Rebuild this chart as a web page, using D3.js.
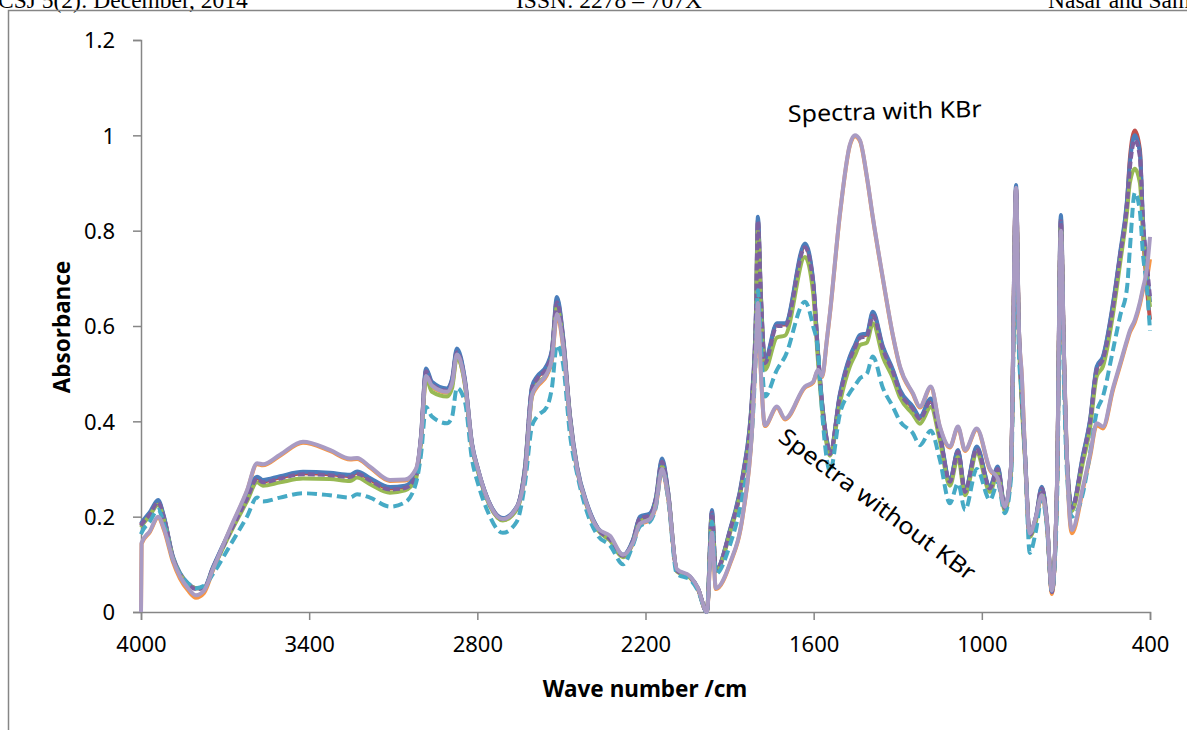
<!DOCTYPE html>
<html>
<head>
<meta charset="utf-8">
<script src="https://cdn.jsdelivr.net/npm/d3@7"></script>
<style>
body{margin:0;background:#fff;overflow:hidden}
svg{display:block}
.tick text{font-family:"Noto Sans",sans-serif;font-size:22px;fill:#000}
</style>
</head>
<body>
<svg id="chart"></svg>
<script>
const width=1187;
const height=730;

// wave numbers (cm-1), shared by every spectrum
const wavenumbers=[4000,3998,3968,3939,3918,3886,3861,3832,3804,3775,3743,
3682,3622,3586,3565,3504,3422,3326,3254,3229,3183,
3112,3058,3019,3001,2983,2962,2908,2890,2873,2844,
2819,2798,2766,2709,2659,2630,2605,2587,2552,2534,
2516,2494,2469,2444,2409,2370,2327,2280,2245,2220,
2184,2163,2141,2120,2088,2041,2013,1981,1963,1949,
1899,1852,1820,1806,1799,1788,1774,1731,1702,1631,
1602,1585,1570,1553,1542,1506,1471,1453,1435,1410,
1389,1353,1317,1292,1246,1221,1182,1150,1114,1085,
1060,1018,971,943,918,896,878,868,857,846,
829,807,786,768,750,732,718,707,697,679,
639,614,590,568,532,507,482,472,454,436,
425,411,400];

// spectra without KBr
const blue=[0.185,0.187,0.21,0.235,0.2,0.116,0.082,0.06,0.05,0.052,0.095,
0.172,0.242,0.284,0.277,0.285,0.294,0.292,0.288,0.295,0.281,
0.262,0.265,0.29,0.37,0.511,0.483,0.469,0.49,0.553,0.487,
0.354,0.301,0.242,0.197,0.221,0.305,0.473,0.494,0.518,0.55,
0.661,0.578,0.41,0.305,0.228,0.176,0.155,0.12,0.151,0.2,
0.207,0.24,0.322,0.256,0.088,0.074,0.05,0.0,0.214,0.088,
0.172,0.291,0.452,0.627,0.829,0.661,0.529,0.606,0.606,0.773,
0.696,0.55,0.44,0.361,0.333,0.459,0.536,0.56,0.581,0.585,
0.63,0.557,0.508,0.466,0.431,0.41,0.448,0.375,0.277,0.34,
0.256,0.347,0.263,0.305,0.221,0.305,0.896,0.6,0.45,0.333,
0.165,0.2,0.263,0.193,0.043,0.263,0.833,0.543,0.333,0.221,
0.33,0.403,0.515,0.536,0.648,0.752,0.864,0.941,1.0,0.963,
0.822,0.717,0.65];
const red=[0.183,0.185,0.207,0.232,0.198,0.114,0.08,0.058,0.05,0.05,0.093,
0.17,0.24,0.281,0.274,0.282,0.291,0.289,0.285,0.292,0.278,
0.259,0.262,0.287,0.367,0.507,0.48,0.466,0.487,0.548,0.484,
0.352,0.3,0.241,0.196,0.22,0.302,0.47,0.491,0.515,0.547,
0.655,0.575,0.408,0.303,0.226,0.175,0.154,0.119,0.15,0.198,
0.205,0.238,0.318,0.254,0.087,0.073,0.05,0.0,0.21,0.087,
0.17,0.288,0.448,0.622,0.822,0.658,0.525,0.603,0.603,0.768,
0.693,0.547,0.438,0.36,0.332,0.456,0.533,0.557,0.578,0.582,
0.626,0.554,0.505,0.463,0.428,0.407,0.445,0.372,0.275,0.338,
0.254,0.344,0.261,0.302,0.219,0.302,0.888,0.595,0.446,0.33,
0.163,0.198,0.261,0.191,0.042,0.261,0.826,0.54,0.33,0.219,
0.327,0.4,0.511,0.533,0.644,0.748,0.86,0.95,1.01,0.97,
0.8,0.68,0.613];
const green=[0.178,0.18,0.203,0.225,0.193,0.112,0.08,0.058,0.05,0.05,0.09,
0.165,0.232,0.272,0.265,0.272,0.28,0.279,0.275,0.282,0.268,
0.25,0.255,0.28,0.355,0.49,0.462,0.452,0.47,0.535,0.475,
0.345,0.295,0.237,0.192,0.215,0.295,0.455,0.478,0.5,0.535,
0.64,0.565,0.4,0.298,0.222,0.172,0.15,0.115,0.145,0.19,
0.197,0.23,0.305,0.248,0.085,0.072,0.048,0.0,0.2,0.085,
0.165,0.28,0.43,0.6,0.8,0.635,0.508,0.576,0.58,0.745,
0.67,0.53,0.425,0.35,0.328,0.44,0.515,0.538,0.56,0.565,
0.606,0.535,0.49,0.45,0.415,0.395,0.43,0.36,0.265,0.325,
0.245,0.333,0.252,0.292,0.212,0.292,0.87,0.58,0.43,0.32,
0.158,0.19,0.25,0.185,0.045,0.25,0.81,0.52,0.32,0.212,
0.315,0.385,0.495,0.515,0.625,0.73,0.84,0.9,0.93,0.9,
0.8,0.7,0.64];
const purple=[0.181,0.183,0.205,0.23,0.197,0.113,0.08,0.058,0.048,0.05,0.092,
0.168,0.237,0.279,0.272,0.28,0.289,0.287,0.283,0.29,0.276,
0.257,0.26,0.285,0.365,0.505,0.478,0.464,0.485,0.545,0.482,
0.35,0.298,0.24,0.195,0.219,0.3,0.468,0.489,0.513,0.545,
0.65,0.572,0.406,0.302,0.225,0.174,0.153,0.118,0.148,0.196,
0.203,0.236,0.315,0.252,0.087,0.073,0.049,0.0,0.208,0.087,
0.169,0.286,0.445,0.618,0.82,0.655,0.522,0.6,0.6,0.765,
0.69,0.545,0.436,0.358,0.331,0.454,0.53,0.554,0.575,0.579,
0.622,0.551,0.503,0.461,0.426,0.405,0.443,0.37,0.273,0.336,
0.252,0.342,0.259,0.3,0.218,0.3,0.88,0.59,0.443,0.328,
0.162,0.197,0.259,0.19,0.042,0.259,0.82,0.535,0.328,0.218,
0.325,0.397,0.508,0.53,0.64,0.745,0.855,0.93,0.99,0.955,
0.82,0.73,0.66];
const teal=[0.163,0.166,0.19,0.215,0.185,0.11,0.08,0.06,0.05,0.055,0.08,
0.14,0.2,0.24,0.232,0.24,0.249,0.245,0.24,0.247,0.24,
0.221,0.23,0.27,0.33,0.43,0.41,0.396,0.41,0.47,0.44,
0.32,0.27,0.215,0.166,0.19,0.27,0.39,0.41,0.43,0.47,
0.56,0.52,0.37,0.29,0.21,0.16,0.14,0.1,0.14,0.18,
0.19,0.22,0.3,0.24,0.08,0.068,0.045,0.0,0.19,0.08,
0.14,0.25,0.38,0.55,0.675,0.56,0.452,0.508,0.536,0.651,
0.6,0.55,0.42,0.32,0.295,0.417,0.46,0.475,0.49,0.5,
0.536,0.47,0.43,0.4,0.375,0.35,0.38,0.32,0.228,0.27,
0.214,0.3,0.235,0.27,0.207,0.28,0.8,0.55,0.45,0.33,
0.124,0.17,0.24,0.18,0.045,0.22,0.78,0.48,0.3,0.2,
0.25,0.333,0.42,0.452,0.55,0.62,0.68,0.76,0.88,0.84,
0.75,0.68,0.59];

// spectra with KBr
const orange=[0.0,0.143,0.168,0.198,0.172,0.105,0.07,0.045,0.03,0.04,0.088,
0.173,0.253,0.31,0.308,0.328,0.355,0.338,0.32,0.321,0.303,
0.275,0.276,0.298,0.362,0.49,0.472,0.46,0.477,0.535,0.477,
0.348,0.298,0.238,0.193,0.218,0.288,0.452,0.472,0.497,0.527,
0.62,0.556,0.398,0.298,0.222,0.172,0.157,0.117,0.143,0.183,
0.193,0.222,0.297,0.242,0.088,0.073,0.048,0.0,0.164,0.048,
0.1,0.205,0.38,0.547,0.645,0.497,0.39,0.429,0.404,0.471,
0.481,0.506,0.493,0.569,0.625,0.835,0.978,0.998,0.988,0.911,
0.827,0.698,0.578,0.513,0.457,0.429,0.471,0.388,0.345,0.387,
0.338,0.383,0.298,0.278,0.219,0.303,0.888,0.598,0.49,0.33,
0.162,0.197,0.242,0.187,0.038,0.26,0.798,0.54,0.33,0.165,
0.258,0.325,0.392,0.385,0.466,0.516,0.567,0.586,0.608,0.645,
0.675,0.7,0.74];
const lavender=[0.0,0.145,0.17,0.2,0.175,0.11,0.075,0.05,0.035,0.045,0.09,
0.175,0.255,0.312,0.31,0.33,0.357,0.34,0.322,0.323,0.305,
0.277,0.278,0.3,0.365,0.495,0.475,0.462,0.48,0.54,0.48,
0.35,0.3,0.24,0.195,0.22,0.29,0.455,0.475,0.5,0.53,
0.625,0.56,0.4,0.3,0.225,0.175,0.16,0.12,0.145,0.185,
0.195,0.225,0.3,0.245,0.09,0.075,0.05,0.0,0.166,0.05,
0.102,0.207,0.382,0.55,0.648,0.5,0.392,0.431,0.406,0.473,
0.483,0.508,0.495,0.571,0.627,0.837,0.98,1.0,0.99,0.913,
0.829,0.7,0.58,0.515,0.459,0.431,0.473,0.39,0.347,0.389,
0.34,0.385,0.3,0.28,0.221,0.305,0.89,0.6,0.493,0.333,
0.165,0.2,0.245,0.19,0.045,0.263,0.8,0.543,0.333,0.172,
0.263,0.33,0.396,0.389,0.47,0.52,0.571,0.59,0.613,0.65,
0.68,0.72,0.787];

const xTicks=[4000,3400,2800,2200,1600,1000,400];
const yTicks=[0,0.2,0.4,0.6,0.8,1,1.2];

// drawing order: back to front
const series=[
  {name:'orange',values:orange,color:'#F79646',dash:null},
  {name:'red',values:red,color:'#C0504D',dash:null},
  {name:'blue',values:blue,color:'#4A7EBB',dash:null},
  {name:'green',values:green,color:'#98B954',dash:null},
  {name:'purple',values:purple,color:'#7D60A0',dash:'7,3'},
  {name:'teal',values:teal,color:'#46AAC5',dash:'10,5'},
  {name:'lavender',values:lavender,color:'#A99BC3',dash:null}
];

const svg=d3.select('#chart').attr('width',width).attr('height',height);

// page header, cut off at the top like the scanned page
const header=svg.append('g')
  .style('font-family','"Liberation Serif",serif')
  .style('font-size','23.5px');
header.append('text').attr('x',-2).attr('y',8).text('CSJ 5(2): December, 2014');
header.append('text').attr('x',516).attr('y',8).text('ISSN: 2278 – 707X');
header.append('text').attr('x',1048).attr('y',8).text('Nasar and Sam');

// chart frame
svg.append('path')
  .attr('d','M8.5,730V10.5H1187')
  .attr('fill','none')
  .attr('stroke','#868686')
  .attr('stroke-width',1.5);

const x=d3.scaleLinear().domain([4000,400]).range([141,1150]);
const y=d3.scaleLinear().domain([0,1.2]).range([612,40]);

const xAxis=svg.append('g')
  .attr('transform','translate(0,612)')
  .call(d3.axisBottom(x).tickValues(xTicks).tickSize(8).tickPadding(16).tickFormat(d3.format('d')));
const yAxis=svg.append('g')
  .attr('transform','translate(141,0)')
  .call(d3.axisLeft(y).tickValues(yTicks).tickSize(8).tickPadding(18).tickFormat(d=>String(d)));
[xAxis,yAxis].forEach(a=>{
  a.selectAll('.domain').attr('stroke','#868686').attr('stroke-width',1.5);
  a.selectAll('.tick line').attr('stroke','#868686').attr('stroke-width',1.5);
});
yAxis.selectAll('.tick text').attr('dy','0.35em');

const line=d3.line()
  .x((d,i)=>x(wavenumbers[i]))
  .y(d=>y(d))
  .curve(d3.curveMonotoneX);

svg.append('g').selectAll('path')
  .data(series)
  .enter().append('path')
  .attr('d',d=>line(d.values))
  .attr('fill','none')
  .attr('stroke',d=>d.color)
  .attr('stroke-width',4)
  .attr('stroke-linejoin','round')
  .attr('stroke-dasharray',d=>d.dash);

// axis titles
svg.append('text')
  .attr('x',645).attr('y',697)
  .attr('text-anchor','middle')
  .style('font-family','"Noto Sans",sans-serif')
  .style('font-size','22.5px').style('font-weight','bold')
  .text('Wave number /cm');
svg.append('text')
  .attr('transform','translate(70,327) rotate(-90)')
  .attr('text-anchor','middle')
  .style('font-family','"Noto Sans",sans-serif')
  .style('font-size','22.5px').style('font-weight','bold')
  .text('Absorbance');

// annotations
svg.append('text')
  .attr('transform','translate(788,122) rotate(-1.5)')
  .attr('textLength',194).attr('lengthAdjust','spacingAndGlyphs')
  .style('font-family','"Noto Sans",sans-serif').style('font-size','23px')
  .text('Spectra with KBr');
svg.append('text')
  .attr('transform','translate(777,440) rotate(36.5)')
  .attr('textLength',238).attr('lengthAdjust','spacingAndGlyphs')
  .style('font-family','"Noto Sans",sans-serif').style('font-size','23px')
  .text('Spectra without KBr');
</script>
</body>
</html>
